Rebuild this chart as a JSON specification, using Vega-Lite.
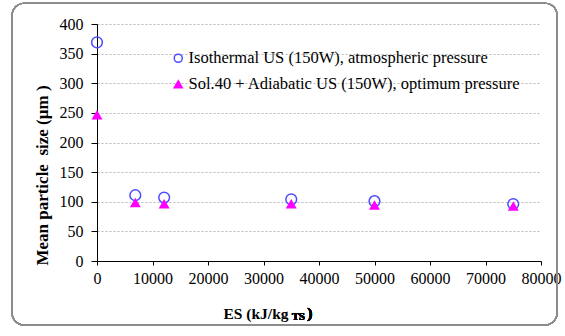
{
  "$schema": "https://vega.github.io/schema/vega-lite/v6.json",
  "width": 444,
  "height": 237,
  "autosize": {"type": "none"},
  "padding": {"left": 97, "top": 24, "right": 24, "bottom": 75},
  "background": "white",
  "config": {
    "view": {"stroke": null},
    "font": "Liberation Serif",
    "axis": {
      "labelFont": "Liberation Serif",
      "labelFontSize": 16,
      "labelColor": "black",
      "titleFont": "Liberation Serif",
      "titleColor": "black",
      "titleFontWeight": "bold",
      "domainColor": "black",
      "tickColor": "black"
    },
    "legend": {
      "labelFont": "Liberation Serif",
      "labelFontSize": 16.5,
      "labelColor": "black",
      "labelLimit": 0,
      "symbolSize": 65,
      "symbolStrokeWidth": 1.5,
      "rowPadding": 9,
      "labelOffset": 2
    }
  },
  "data": {
    "values": [
      {"es": 0, "size": 369, "series": "Isothermal US (150W), atmospheric pressure"},
      {"es": 6900, "size": 111, "series": "Isothermal US (150W), atmospheric pressure"},
      {"es": 12100, "size": 107, "series": "Isothermal US (150W), atmospheric pressure"},
      {"es": 35000, "size": 104, "series": "Isothermal US (150W), atmospheric pressure"},
      {"es": 50000, "size": 101, "series": "Isothermal US (150W), atmospheric pressure"},
      {"es": 75000, "size": 96, "series": "Isothermal US (150W), atmospheric pressure"},
      {"es": 0, "size": 246, "series": "Sol.40 + Adiabatic US (150W), optimum pressure"},
      {"es": 6900, "size": 98, "series": "Sol.40 + Adiabatic US (150W), optimum pressure"},
      {"es": 12100, "size": 96, "series": "Sol.40 + Adiabatic US (150W), optimum pressure"},
      {"es": 35000, "size": 96, "series": "Sol.40 + Adiabatic US (150W), optimum pressure"},
      {"es": 50000, "size": 94, "series": "Sol.40 + Adiabatic US (150W), optimum pressure"},
      {"es": 75000, "size": 92, "series": "Sol.40 + Adiabatic US (150W), optimum pressure"}
    ]
  },
  "layer": [
    {
      "transform": [{"filter": "datum.series === 'Isothermal US (150W), atmospheric pressure'"}],
      "mark": {"type": "point", "size": 115, "strokeWidth": 1.5, "opacity": 1, "clip": false},
      "encoding": {
        "x": {
          "field": "es", "type": "quantitative",
          "scale": {"domain": [0, 80000], "nice": false, "zero": true},
          "axis": {
            "tickCount": 8, "format": "d", "grid": false,
            "tickSize": 4, "labelPadding": 5, "labelOverlap": false, "labelFlush": false,
            "title": "ES (kJ/kg", "titleFontSize": 15.5,
            "titleX": 126, "titleAlign": "left", "titleY": 57, "titleBaseline": "alphabetic"
          }
        },
        "y": {
          "field": "size", "type": "quantitative",
          "scale": {"domain": [0, 400], "nice": false},
          "axis": {
            "tickCount": 8,
            "grid": true, "gridColor": "#b8b8b8", "gridDash": [2, 2], "gridWidth": 1,
            "tickSize": 6, "labelPadding": 8, "labelOverlap": false, "labelFlush": false,
            "title": "Mean particle\u00a0 size (µm\u00a0)", "titleFontSize": 17,
            "titleX": -50, "titleY": 151, "titleBaseline": "alphabetic"
          }
        },
        "shape": {
          "field": "series", "type": "nominal",
          "scale": {"range": ["circle", "triangle-up"]},
          "legend": {"title": null, "orient": "none", "legendX": 73, "legendY": 26}
        },
        "fill": {
          "field": "series", "type": "nominal",
          "scale": {"range": ["transparent", "#ff00ff"]}
        },
        "stroke": {
          "field": "series", "type": "nominal",
          "scale": {"range": ["#4d4dff", "#ff00ff"]}
        }
      }
    },
    {
      "transform": [{"filter": "datum.series === 'Sol.40 + Adiabatic US (150W), optimum pressure'"}],
      "mark": {"type": "point", "size": 70, "strokeWidth": 1.5, "opacity": 1, "clip": false},
      "encoding": {
        "x": {"field": "es", "type": "quantitative"},
        "y": {"field": "size", "type": "quantitative"},
        "shape": {"field": "series", "type": "nominal"},
        "fill": {"field": "series", "type": "nominal"},
        "stroke": {"field": "series", "type": "nominal"}
      }
    },
    {
      "mark": {"type": "text", "font": "Liberation Serif", "fontSize": 10.5, "fontWeight": "bold", "align": "left", "baseline": "alphabetic", "clip": false},
      "encoding": {
        "x": {"datum": 35135, "type": "quantitative"},
        "y": {"datum": -99.6, "type": "quantitative"},
        "text": {"value": "TS"}
      }
    },
    {
      "mark": {"type": "text", "font": "Liberation Serif", "fontSize": 15.5, "fontWeight": "bold", "align": "left", "baseline": "alphabetic", "clip": false},
      "encoding": {
        "x": {"datum": 37900, "type": "quantitative"},
        "y": {"datum": -96.2, "type": "quantitative"},
        "text": {"value": ")"}
      }
    },
    {
      "mark": {"type": "rect", "fill": null, "stroke": "#8c8c8c", "strokeWidth": 1.2, "cornerRadius": 12, "clip": false},
      "encoding": {
        "x": {"datum": -15300, "type": "quantitative"},
        "x2": {"datum": 82900},
        "y": {"datum": 435, "type": "quantitative"},
        "y2": {"datum": -108}
      }
    }
  ]
}
